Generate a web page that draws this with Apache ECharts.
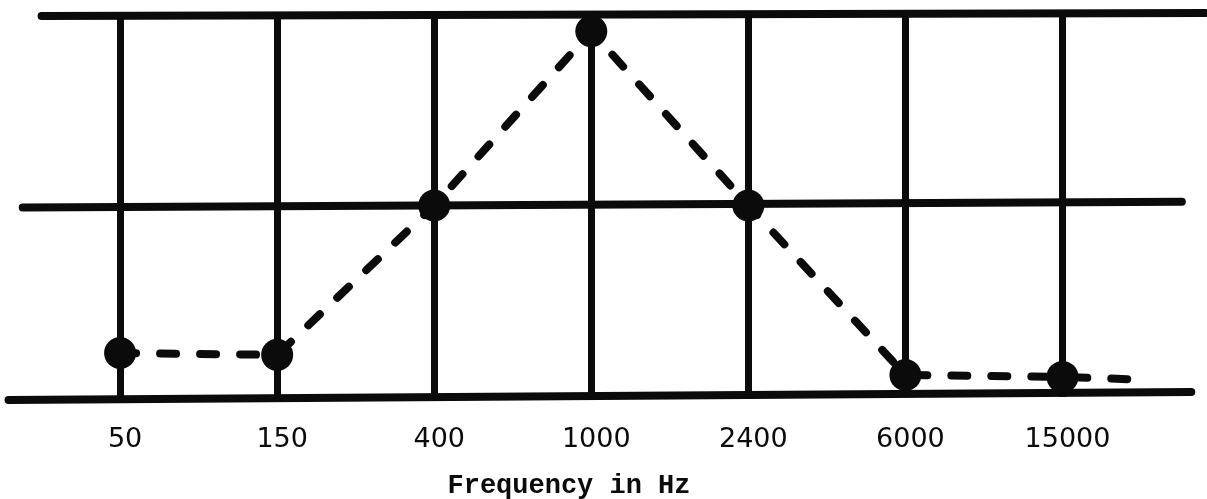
<!DOCTYPE html>
<html>
<head>
<meta charset="utf-8">
<script src="https://cdn.jsdelivr.net/npm/echarts@6/dist/echarts.min.js"></script>
<style>
  html, body { margin: 0; padding: 0; background: #fff; }
  #chart { width: 1207px; height: 499px; }
</style>
</head>
<body>
<div id="chart"></div>
<script>
// categories on the x axis (evenly spaced, index 0..6)
var categories = ['50', '150', '400', '1000', '2400', '6000', '15000'];
// response level (bottom line = 0, middle = 1, top = 2)
var values = [0.23, 0.22, 1.0, 1.91, 1.0, 0.115, 0.105];
// the dashed line runs on a bit past the last point
var tailX = 6.52;
var tailValue = 0.09;

// horizontal rules: level, where they start / end (in category index units)
var hLevels = [0, 1, 2];
var hStartLevel = [-0.016, 0.99, 1.99];
var hEndLevel = [0.026, 1.02, 2.005];
var hStart = [-0.71, -0.62, -0.5];
var hEnd = [6.82, 6.76, 6.91];

var ink = '#0b0b0b';

const myChart = echarts.init(document.getElementById('chart'));

// one line series per horizontal rule
var ruleSeries = hLevels.map(function (lv, i) {
    return {
        type: 'line',
        silent: true,
        clip: false,
        symbol: 'none',
        lineStyle: { color: ink, width: 8, cap: 'round' },
        data: [[hStart[i], hStartLevel[i]], [hEnd[i], hEndLevel[i]]],
        z: 1
    };
});

// vertical rules at each category
var vLines = categories.map(function (c, i) {
    return [{ coord: [i, 0] }, { coord: [i, 2] }];
});

var pts = values.map(function (v, i) {
    return [i, v];
});
pts.push({ value: [tailX, tailValue], symbol: 'none' });

const option = {
    backgroundColor: '#fff',
    animation: false,
    grid: { left: 7, right: 0, top: 14, bottom: 102, containLabel: false, outerBoundsMode: 'none' },
    xAxis: {
        type: 'value',
        min: -0.72,
        max: 6.92,
        splitLine: { show: false },
        axisLine: { show: false },
        axisTick: { show: false },
        axisLabel: {
            customValues: [0, 1, 2, 3, 4, 5, 6],
            formatter: function (v) { return categories[Math.round(v)]; },
            margin: 29,
            padding: [0, 0, 0, 10],
            color: ink,
            fontFamily: 'DejaVu Sans',
            fontSize: 27
        },
        name: 'Frequency in Hz',
        nameLocation: 'middle',
        nameGap: 76,
        nameTextStyle: {
            color: ink,
            fontFamily: 'Liberation Mono',
            fontWeight: 'bold',
            fontSize: 27,
            padding: [0, 76, 0, 0]
        }
    },
    yAxis: {
        type: 'value',
        min: 0,
        max: 2,
        show: false
    },
    series: ruleSeries.concat([
        {
            type: 'line',
            silent: true,
            symbol: 'none',
            data: [],
            markLine: {
                silent: true,
                symbol: 'none',
                label: { show: false },
                lineStyle: { color: ink, width: 7, type: 'solid' },
                data: vLines
            },
            z: 1
        },
        {
            type: 'line',
            clip: false,
            data: pts,
            symbol: 'circle',
            symbolSize: 32,
            itemStyle: { color: ink },
            lineStyle: { color: ink, width: 8, type: [16, 24], cap: 'round' },
            z: 3
        }
    ])
};

myChart.setOption(option);
</script>
</body>
</html>
